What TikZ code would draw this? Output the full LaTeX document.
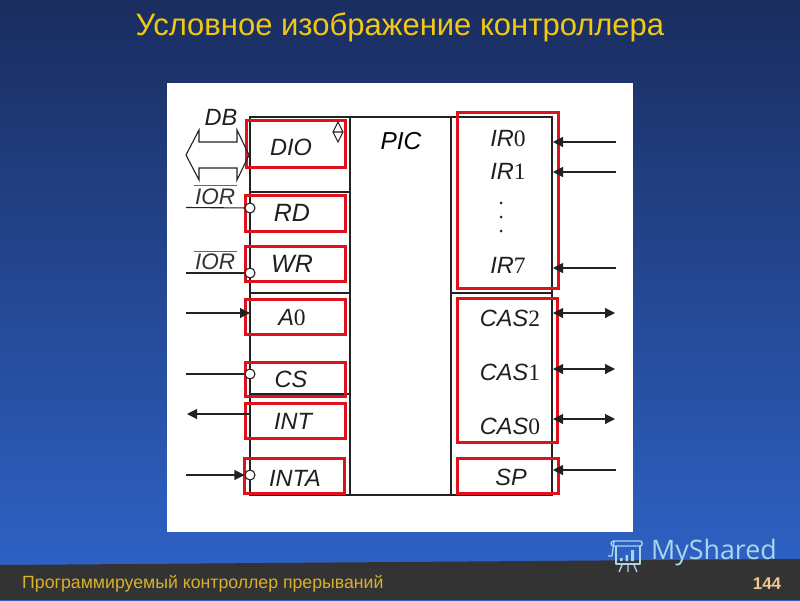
\documentclass[tikz,border=0pt]{standalone}
\usepackage{fontspec}
\setmainfont{Liberation Sans}
\newfontfamily\serifdig{Liberation Serif}
\newfontfamily\shared{Open Sans}
\usetikzlibrary{arrows.meta}
\definecolor{navy}{HTML}{1A2D5F}
\definecolor{blue2}{HTML}{2F64CA}
\definecolor{band}{HTML}{333333}
\definecolor{gold}{HTML}{F2C811}
\definecolor{footgold}{HTML}{D9B02E}
\definecolor{numtan}{HTML}{F0C890}
\definecolor{redbox}{HTML}{E0101C}
\definecolor{wm}{HTML}{A9D6EA}
\definecolor{wire}{HTML}{222222}
\newcommand{\dg}[1]{{\upshape\serifdig #1}}
\tikzset{
  x=1pt,y=-1pt,
  rbox/.style={draw=redbox,line width=3pt,minimum width=#1,inner sep=0pt,outer sep=0pt,anchor=north west},
  chipline/.style={draw=wire,line width=1.4pt},
  wireline/.style={draw=wire,line width=1.1pt},
  head/.style={wireline,-{Triangle[length=10pt,width=10pt]}},
  dhead/.style={wireline,{Triangle[length=10pt,width=10pt]}-{Triangle[length=10pt,width=10pt]}},
  bubble/.style={circle,draw=wire,fill=white,line width=1.1pt,minimum size=10pt,inner sep=0pt},
  lab/.style={font=\fontsize{23.5}{26}\selectfont\itshape,text=black!88,inner sep=0pt},
  biglab/.style={font=\fontsize{25}{28}\selectfont\itshape,text=black!88,inner sep=0pt},
  siglab/.style={font=\fontsize{22.5}{26}\selectfont\itshape,text=black!80,inner sep=0pt},
  dotn/.style={circle,fill=black!85,minimum size=3pt,inner sep=0pt},
  wmline/.style={draw=wm,line width=1.3pt,line join=round},
}
\begin{document}
\begin{tikzpicture}
\useasboundingbox (0,0) rectangle (800,600);
% background
\shade[top color=navy,bottom color=blue2] (0,0) rectangle (800,600);
\fill[band] (0,565) -- (800,559) -- (800,600) -- (0,600) -- cycle;
\fill[white] (167,83) rectangle (633,532);
% title / footer
\node[text=gold,font=\fontsize{31}{36}\selectfont,inner sep=0pt] (title) at (400,27) {Условное изображение контроллера};
\node[text=footgold,font=\fontsize{17.7}{20}\selectfont,inner sep=0pt,anchor=west] (foot) at (22,583.5) {Программируемый контроллер прерываний};
\node[text=numtan,font=\fontsize{17}{20}\selectfont\bfseries,inner sep=0pt] (num) at (767,584) {144};
% chip
\coordinate (tl) at (250,117); \coordinate (tm1) at (350,117); \coordinate (tm2) at (451,117); \coordinate (tr) at (552,117);
\coordinate (bl) at (250,495); \coordinate (bm1) at (350,495); \coordinate (bm2) at (451,495); \coordinate (br) at (552,495);
\draw[chipline] (tl) -- (tr) -- (br) -- (bl) -- cycle;
\draw[chipline] (tm1) -- (bm1) (tm2) -- (bm2);
\coordinate (l1) at (250,192); \coordinate (l1e) at (350,192);
\coordinate (l2) at (250,293); \coordinate (l2e) at (350,293);
\coordinate (l3) at (250,394); \coordinate (l3e) at (350,394);
\coordinate (r1) at (451,293); \coordinate (r1e) at (552,293);
\draw[chipline] (l1) -- (l1e) (l2) -- (l2e) (l3) -- (l3e) (r1) -- (r1e);
% red boxes
\node[rbox=99pt,minimum height=47pt] (rDIO) at (246.5,120.5) {};
\node[rbox=100pt,minimum height=36pt] (rRD) at (245.5,195.5) {};
\node[rbox=100pt,minimum height=35pt] (rWR) at (245.5,246.5) {};
\node[rbox=100pt,minimum height=35pt] (rA0) at (245.5,299.5) {};
\node[rbox=100pt,minimum height=34pt] (rCS) at (245.5,362.5) {};
\node[rbox=100pt,minimum height=35pt] (rINT) at (245.5,403.5) {};
\node[rbox=100pt,minimum height=35pt] (rINTA) at (244,458.5) {};
\node[rbox=101pt,minimum height=176pt] (rIR) at (457.5,112.5) {};
\node[rbox=100pt,minimum height=144pt] (rCAS) at (457.5,298.5) {};
\node[rbox=101pt,minimum height=35pt] (rSP) at (457.5,458.5) {};
% DB bus arrow
\coordinate (dbL) at (186,155); \coordinate (dbR) at (249,155);
\draw[wireline,line join=miter] (dbL) -- (199,130) -- (199,142) -- (237,142) -- (237,130) -- (dbR) -- (237,180) -- (237,168) -- (199,168) -- (199,180) -- cycle;
% small diamond
\draw[wireline] (338,122) -- (343,132) -- (338,142) -- (333,132) -- cycle (333,132) -- (343,132);
% left signals
\coordinate (rdin) at (186,207.5); \coordinate (wrin) at (186,273); \coordinate (a0in) at (186,313);
\coordinate (csin) at (186,374); \coordinate (intout) at (187,414); \coordinate (intsrc) at (250,414);
\coordinate (intain) at (186,475); \coordinate (a0pin) at (250,313);
\node[bubble] (brd) at (250,208) {};
\node[bubble] (bwr) at (250,273) {};
\node[bubble] (bcs) at (250,374) {};
\node[bubble] (binta) at (250,475) {};
\draw[wireline] (rdin) -- (brd);
\draw[wireline] (wrin) -- (bwr);
\draw[head] (a0in) -- (a0pin);
\draw[wireline] (csin) -- (bcs);
\draw[head] (intsrc) -- (intout);
\draw[head] (intain) -- (binta);
% right signals
\foreach \nm/\yy in {ir0/142,ir1/172,ir7/268,sp/470}{
  \coordinate (\nm src) at (616,\yy); \coordinate (\nm pin) at (553,\yy);
  \draw[head] (\nm src) -- (\nm pin);
}
\foreach \nm/\yy in {cas2/313,cas1/369,cas0/419}{
  \coordinate (\nm a) at (553,\yy); \coordinate (\nm b) at (615,\yy);
  \draw[dhead] (\nm a) -- (\nm b);
}
% labels
\node[lab] (tDB) at (221,117) {DB};
\node[siglab] (tIOR1) at (215,197) {IOR};
\node[siglab] (tIOR2) at (215,262) {IOR};
\draw[wireline,line width=0.6pt,draw=black!60] (194,185) -- (237,185) (194,251) -- (237,251);
\node[lab] (tDIO) at (291,147) {DIO};
\node[biglab] (tRD) at (292,213) {RD};
\node[biglab] (tWR) at (292,264) {WR};
\node[lab] (tA0) at (292,318) {A\dg{0}};
\node[lab] (tCS) at (291,379) {CS};
\node[lab] (tINT) at (293,421) {INT};
\node[lab] (tINTA) at (295,478) {INTA};
\node[lab,font=\fontsize{24.5}{28}\selectfont\itshape,text=black] (tPIC) at (401,141) {PIC};
\node[lab] (tIR0) at (508,139) {IR\dg{0}};
\node[lab] (tIR1) at (508,171) {IR\dg{1}};
\node[dotn] (d1) at (501,203) {};
\node[dotn] (d2) at (501,217) {};
\node[dotn] (d3) at (501,231) {};
\node[lab] (tIR7) at (508,265) {IR\dg{7}};
\node[lab] (tC2) at (510,318) {CAS\dg{2}};
\node[lab] (tC1) at (510,372) {CAS\dg{1}};
\node[lab] (tC0) at (510,426) {CAS\dg{0}};
\node[lab] (tSP) at (511,477) {SP};
% watermark
\draw[wmline] (614,541) -- (640,541) .. controls (643,541) and (643,546) .. (640,546) -- (614,546) (614,541) .. controls (610,541) and (610,546) .. (614,546);
\draw[wmline] (614,541) -- (612,556) -- (608,556);
\draw[wmline] (616,546) -- (616,564) -- (640,564) -- (640,546);
\fill[wm] (620,558) rectangle (622.5,561) (625.5,555) rectangle (628,561) (631,550) rectangle (634,561);
\draw[wmline] (622,565) -- (619,572) (628,565) -- (628,572) (634,565) -- (637,572);
\node[text=wm,font=\shared\fontsize{26.8}{30}\selectfont,inner sep=0pt,anchor=west] (ms) at (651,553) {MyShared};
\end{tikzpicture}
\end{document}
